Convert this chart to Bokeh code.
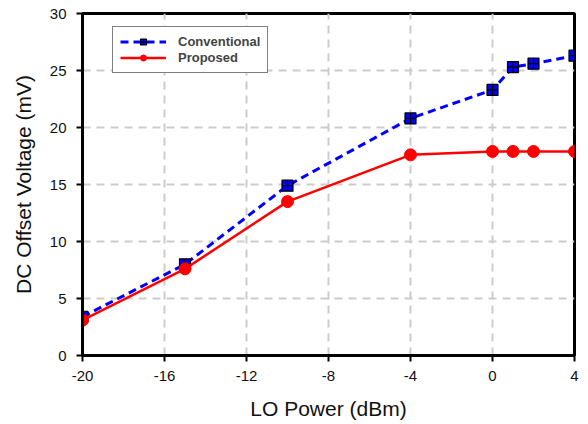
from bokeh.plotting import figure
from bokeh.models import Legend, LegendItem, FixedTicker, ColumnDataSource
from bokeh.embed import file_html
from bokeh.resources import INLINE

lo_power = [-20, -15, -10, -4, 0, 1, 2, 4]
conventional = [3.4, 8.0, 14.9, 20.8, 23.3, 25.3, 25.6, 26.3]
proposed = [3.1, 7.6, 13.5, 17.6, 17.9, 17.9, 17.9, 17.9]
x_ticks = [-20, -16, -12, -8, -4, 0, 4]
y_ticks = [0, 5, 10, 15, 20, 25, 30]

p = figure(width=588, height=424, output_backend="svg", toolbar_location=None,
           x_range=(-20, 4), y_range=(0, 30),
           min_border_left=82, min_border_right=14, min_border_top=13, min_border_bottom=69)

p.outline_line_color = "black"
p.outline_line_width = 3
p.outline_line_alpha = 1

for ax in (p.xaxis[0], p.yaxis[0]):
    ax.axis_line_width = 3
    ax.axis_line_color = "black"
    ax.major_tick_line_width = 2
    ax.major_tick_out = 6
    ax.major_tick_in = 0
    ax.minor_tick_line_color = None
    ax.major_label_text_font = "Liberation Sans"
    ax.major_label_text_font_size = "15px"
    ax.major_label_text_color = "#111111"
    ax.axis_label_text_font = "Liberation Sans"
    ax.axis_label_text_font_size = "21px"
    ax.axis_label_text_font_style = "normal"
    ax.axis_label_text_color = "#111111"

p.xaxis.ticker = FixedTicker(ticks=x_ticks)
p.yaxis.ticker = FixedTicker(ticks=y_ticks)
p.xaxis.major_label_overrides = {t: str(t) for t in x_ticks}
p.yaxis.major_label_overrides = {t: str(t) for t in y_ticks}
p.xaxis.axis_label = "LO Power (dBm)"
p.yaxis.axis_label = "DC Offset Voltage (mV)"
p.xaxis.major_label_standoff = 9
p.xaxis.axis_label_standoff = 13
p.yaxis.major_label_standoff = 10
p.yaxis.axis_label_standoff = 12

p.xgrid.ticker = FixedTicker(ticks=x_ticks)
p.ygrid.ticker = FixedTicker(ticks=y_ticks)
for g in (p.xgrid[0], p.ygrid[0]):
    g.grid_line_color = "#cccccc"
    g.grid_line_width = 2
    g.grid_line_dash = "8 6"

src = ColumnDataSource(dict(x=lo_power, c=conventional, pr=proposed))

l1 = p.line("x", "c", source=src, line_color="#0000ff", line_width=3, line_dash="8 5")
m1 = p.scatter("x", "c", source=src, marker="square_cross", size=11,
               fill_color="#0000ff", line_color="black", line_width=1.2)
l2 = p.line("x", "pr", source=src, line_color="#ff0000", line_width=2.5)
m2 = p.scatter("x", "pr", source=src, marker="circle", size=12,
               fill_color="#ff0000", line_color="#ff0000")

legend = Legend(items=[LegendItem(label="Conventional", renderers=[l1, m1]),
                       LegendItem(label="Proposed", renderers=[l2, m2])],
                location=(30, 282))
legend.border_line_color = "black"
legend.border_line_width = 1.5
legend.background_fill_color = "white"
legend.background_fill_alpha = 1
legend.label_text_font = "Liberation Sans"
legend.label_text_font_style = "bold"
legend.label_text_font_size = "13px"
legend.glyph_width = 46
legend.glyph_height = 15
legend.label_height = 15
legend.spacing = 1
legend.padding = 7
legend.label_standoff = 12
legend.margin = 0
p.add_layout(legend, "center")

open("out.html", "w").write(file_html(p, INLINE))
